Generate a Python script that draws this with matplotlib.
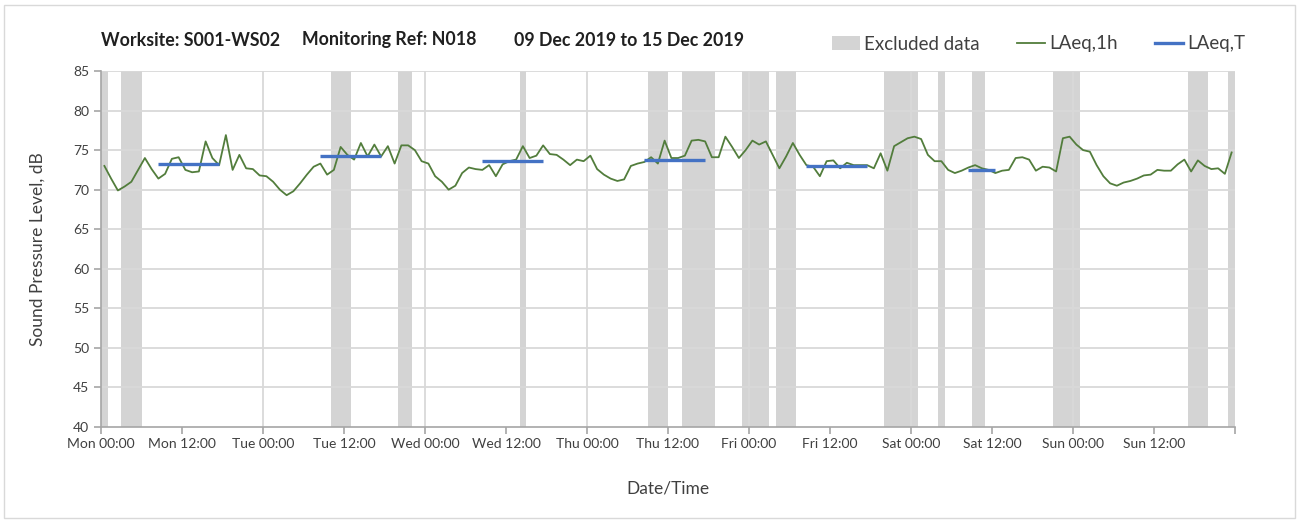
import numpy as np
import matplotlib
matplotlib.use("Agg")
import matplotlib.pyplot as plt
from matplotlib.patches import Patch, Rectangle
from matplotlib.lines import Line2D

plt.rcParams['font.family'] = ['Lato', 'DejaVu Sans']

# hourly LAeq,1h values, Mon 00:00 .. Sun 23:00
laeq_1h = [73.0, 71.4, 69.9, 70.4, 71.0, 72.5, 74.0, 72.6, 71.4, 72.0, 73.9, 74.1,
           72.5, 72.2, 72.3, 76.1, 74.0, 73.1, 76.9, 72.5, 74.4, 72.7, 72.6, 71.8,
           71.7, 71.0, 70.0, 69.3, 69.8, 70.8, 71.9, 72.9, 73.3, 71.9, 72.5, 75.4,
           74.4, 73.8, 75.9, 74.2, 75.7, 74.2, 75.5, 73.3, 75.6, 75.6, 75.0, 73.6,
           73.3, 71.7, 71.0, 70.0, 70.5, 72.1, 72.8, 72.6, 72.5, 73.1, 71.7, 73.2,
           73.6, 73.8, 75.5, 74.0, 74.3, 75.6, 74.5, 74.4, 73.8, 73.1, 73.8, 73.6,
           74.3, 72.6, 71.9, 71.4, 71.1, 71.3, 73.0, 73.3, 73.5, 74.1, 73.3, 76.2,
           74.0, 74.0, 74.3, 76.2, 76.3, 76.1, 74.1, 74.1, 76.7, 75.4, 74.0, 75.0,
           76.2, 75.7, 76.1, 74.4, 72.7, 74.2, 75.9, 74.4, 73.1, 72.9, 71.7, 73.6,
           73.7, 72.7, 73.4, 73.1, 73.1, 73.1, 72.7, 74.6, 72.4, 75.5, 76.0, 76.5,
           76.7, 76.4, 74.4, 73.6, 73.6, 72.5, 72.1, 72.4, 72.8, 73.1, 72.7, 72.5,
           72.1, 72.4, 72.5, 74.0, 74.1, 73.8, 72.4, 72.9, 72.8, 72.3, 76.5, 76.7,
           75.7, 75.0, 74.8, 73.1, 71.7, 70.8, 70.5, 70.9, 71.1, 71.4, 71.8, 71.9,
           72.5, 72.4, 72.4, 73.2, 73.8, 72.3, 73.7, 73.0, 72.6, 72.7, 72.0, 74.7]

# working period averages (first and last hour of each period)
period_start = [8, 32, 56, 80, 104, 128]
period_end = [17, 41, 65, 89, 113, 132]
laeq_t = [73.3, 74.2, 73.6, 73.8, 73.0, 72.5]

# excluded hours
excl_start = [0, 3, 34, 44, 62, 81, 86, 95, 100, 116, 124, 129, 141, 161, 167]
excl_end = [1, 6, 37, 46, 63, 84, 91, 99, 103, 121, 125, 131, 145, 164, 168]

days = ["Mon", "Tue", "Wed", "Thu", "Fri", "Sat", "Sun"]
tick_labels = []
for d in days:
    tick_labels += [d + " 00:00", d + " 12:00"]
tick_labels.append("")

green = '#527d3c'
blue = '#4472c4'
shade = '#d4d4d4'
grid = '#d9d9d9'
axis_col = '#a6a6a6'

fig = plt.figure(figsize=(12.99, 5.22), dpi=100)
ax = fig.add_axes([101/1299, 1-427/522, 1134/1299, 356/522])

for s, e in zip(excl_start, excl_end):
    ax.axvspan(s, e, color=shade, lw=0, zorder=1)

hours = np.arange(len(laeq_1h)) + 0.5
ax.plot(hours, laeq_1h, color=green, lw=1.3, zorder=4)
for s, e, v in zip(period_start, period_end, laeq_t):
    ax.plot([s + 0.5, e + 0.5], [v, v], color=blue, lw=2.4, zorder=5,
            solid_capstyle='butt')

ax.set_xlim(0, 168)
ax.set_ylim(40, 85)
ax.set_yticks(np.arange(40, 86, 5))
ax.set_xticks(np.arange(0, 169, 12))
ax.set_xticklabels(tick_labels)

# gridlines: every 5 dB and every day
for y in np.arange(45, 86, 5):
    ax.axhline(y, color=grid, lw=1.3, zorder=2)
for x in np.arange(24, 168, 24):
    ax.axvline(x, color=grid, lw=1.3, zorder=2)

for side in ['top', 'right']:
    ax.spines[side].set_visible(False)
for side in ['left', 'bottom']:
    ax.spines[side].set_color(axis_col)
    ax.spines[side].set_linewidth(1.2)
    ax.spines[side].set_zorder(6)
ax.tick_params(axis='both', colors=axis_col, labelcolor='#404040',
               labelsize=10, length=5, width=1.2, direction='out')
ax.tick_params(axis='x', pad=3)

ax.set_ylabel("Sound Pressure Level, dB", fontsize=12.5, color='#404040', labelpad=20)
ax.set_xlabel("Date/Time", fontsize=12.5, color='#404040', labelpad=22)

title_y = 1 - 40/522
fig.text(101/1299, title_y, "Worksite: S001-WS02", fontsize=12.8, fontweight='bold',
         color='#202020', va='center')
fig.text(302/1299, title_y, "Monitoring Ref: N018", fontsize=12.8, fontweight='bold',
         color='#202020', va='center')
fig.text(514/1299, title_y, "09 Dec 2019 to 15 Dec 2019", fontsize=12.8, fontweight='bold',
         color='#202020', va='center')

handles = [Patch(facecolor=shade, edgecolor='none', label="Excluded data"),
           Line2D([], [], color=green, lw=1.3, label="LAeq,1h"),
           Line2D([], [], color=blue, lw=2.4, label="LAeq,T")]
fig.legend(handles=handles, loc='center right', bbox_to_anchor=(1262/1299, 1-44/522),
           ncol=3, frameon=False, fontsize=13.5, handlelength=1.5,
           handletextpad=0.2, columnspacing=2.0, labelcolor='#404040')

# chart border
fig.patches.append(Rectangle((4/1299, 4/522), 1291/1299, 513/522, transform=fig.transFigure,
                             fill=False, edgecolor='#d9d9d9', lw=1))

fig.savefig("out.png", dpi=100)
